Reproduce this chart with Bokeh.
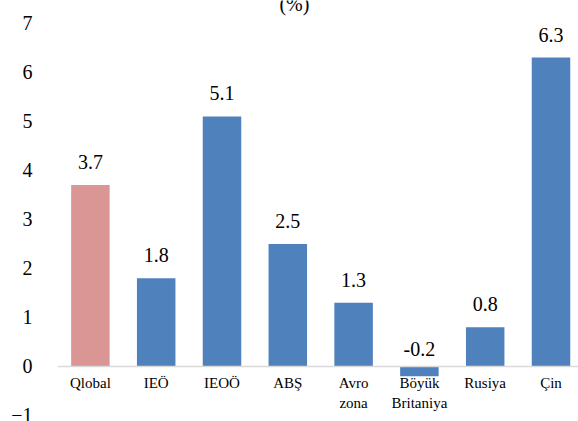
from bokeh.plotting import figure
from bokeh.models import Range1d, FixedTicker, ColumnDataSource, Span
from bokeh.core.properties import value
from bokeh.embed import file_html
from bokeh.resources import INLINE

# ---- data ----
categories = ["Qlobal", "IEÖ", "IEOÖ", "ABŞ", "Avro\nzona", "Böyük\nBritaniya", "Rusiya", "Çin"]
growth = [3.7, 1.8, 5.1, 2.5, 1.3, -0.2, 0.8, 6.3]
value_labels = ["3.7", "1.8", "5.1", "2.5", "1.3", "-0.2", "0.8", "6.3"]
y_ticks = [-1, 0, 1, 2, 3, 4, 5, 6, 7]
title_text = "(%)"

# ---- styles ----
BLUE = "#4f81bd"
PINK = "#d99694"
FONT = "'Liberation Serif', 'Times New Roman', serif"
colors = [PINK] + [BLUE] * (len(categories) - 1)

n = len(categories)
xs = [i + 0.5 for i in range(n)]
label_y = [max(v, 0) for v in growth]
label_off = [-23 if v >= 0 else -17 for v in growth]

src = ColumnDataSource(dict(x=xs, v=growth, c=colors, cat=categories,
                            lab=value_labels, ly=label_y, lo=label_off,
                            zero=[0] * n))

y_top = 7.463
p = figure(width=578, height=421, output_backend="svg", toolbar_location=None,
           x_range=Range1d(0, 7.918), y_range=Range1d(-1.122, y_top),
           x_axis_location=None, y_axis_location="left",
           min_border_left=57, min_border_right=0, min_border_top=0, min_border_bottom=0)
p.outline_line_color = None
p.xgrid.visible = False
p.ygrid.visible = False
p.background_fill_color = "white"
p.border_fill_color = "white"

ax = p.yaxis[0]
ax.ticker = FixedTicker(ticks=y_ticks)
ax.axis_line_color = None
ax.major_tick_line_color = None
ax.minor_tick_line_color = None
ax.major_label_standoff = 19
ax.major_label_text_font = FONT
ax.major_label_text_font_size = "20px"
ax.major_label_text_color = "black"

p.vbar(x="x", top="v", bottom=0, width=0.585, fill_color="c", line_color=None, source=src)

p.add_layout(Span(location=0, dimension="width", line_color="#d9d9d9", line_width=1.5))

p.text(x="x", y="ly", text="lab", source=src, text_font=value(FONT),
       text_font_size="20px", text_align="center", text_baseline="middle",
       y_offset="lo", text_color="black")

p.text(x="x", y="zero", text="cat", source=src, text_font=value(FONT),
       text_font_size="15px", text_align="center", text_baseline="top",
       y_offset=9, text_line_height=1.2, text_color="black")

p.text(x=[3.6], y=[y_top], text=[title_text], text_font=value(FONT),
       text_font_size="20px", text_align="center", text_baseline="alphabetic",
       y_offset=3.5, text_color="black")

open("out.html", "w").write(file_html(p, INLINE))
